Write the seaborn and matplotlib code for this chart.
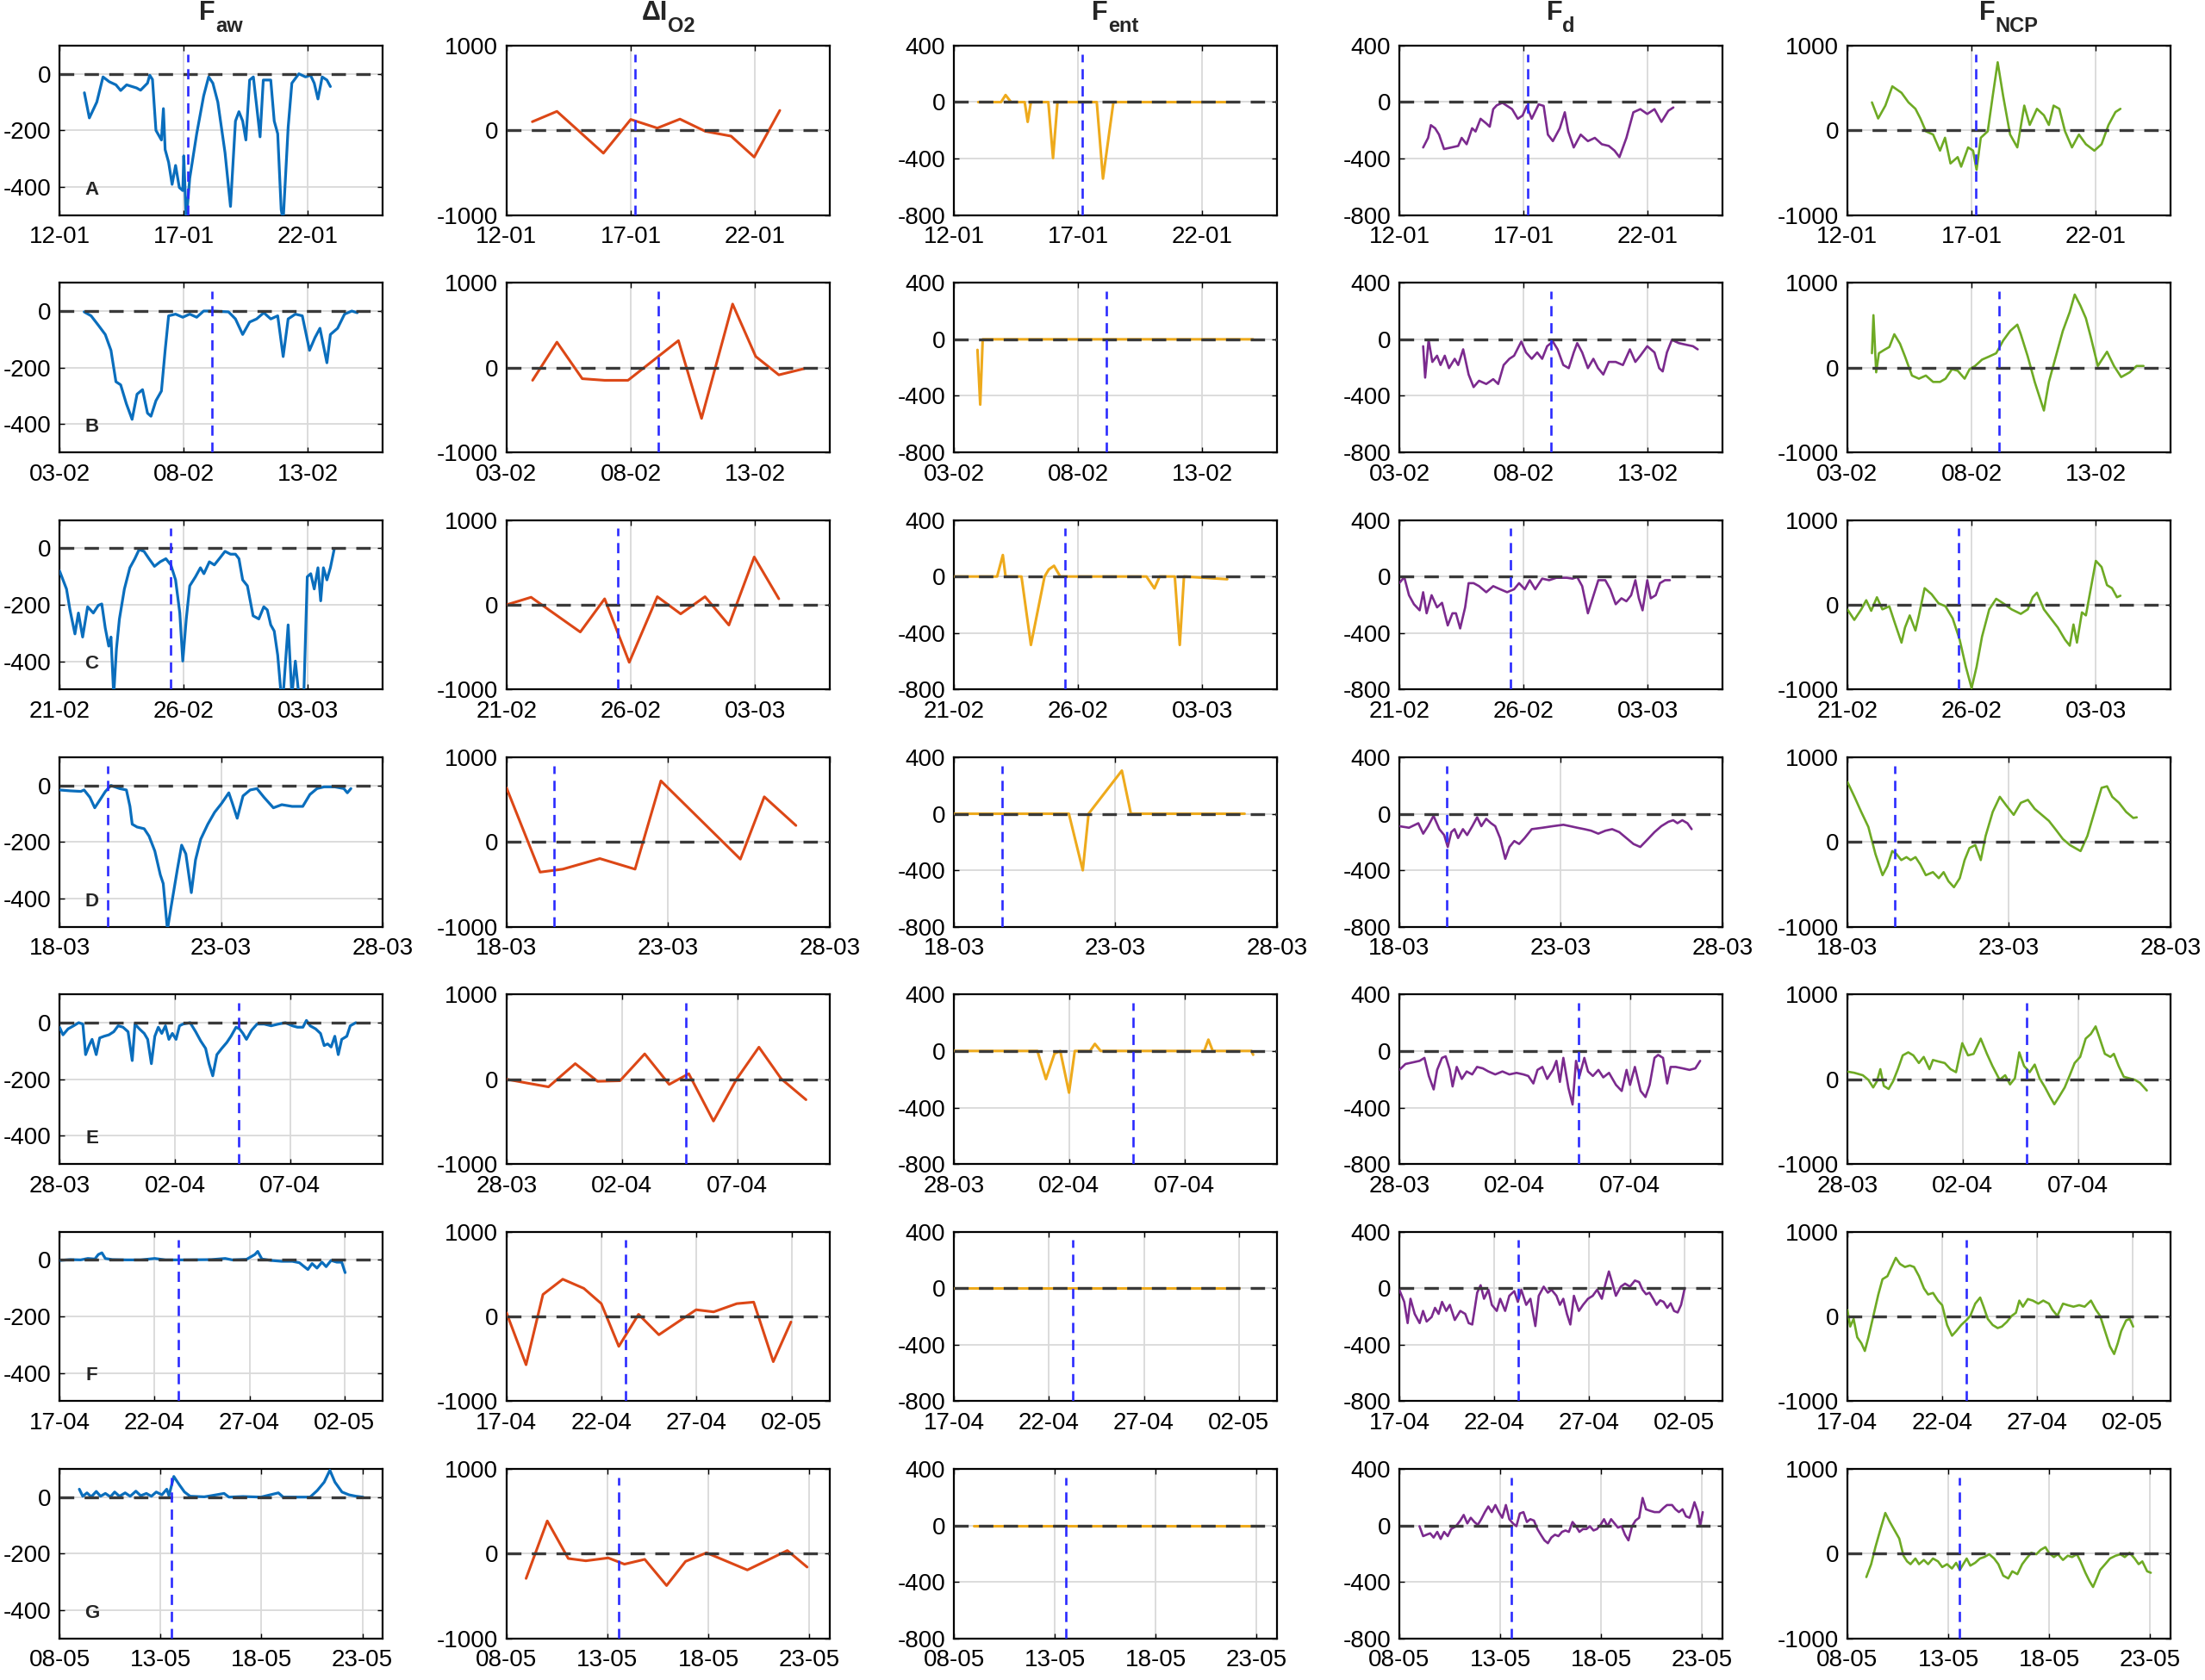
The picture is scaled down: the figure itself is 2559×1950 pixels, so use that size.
import matplotlib
matplotlib.use("Agg")
import matplotlib.pyplot as plt
import matplotlib.dates as mdates
import matplotlib.ticker as mticker
import pandas as pd
import seaborn as sns

# ---------------- data (day offset from row start, value) ----------------
ROW_STARTS = ["2022-01-12", "2022-02-03", "2022-02-21", "2022-03-18",
              "2022-03-28", "2022-04-17", "2022-05-08"]
ROW_SPANS = [13, 13, 13, 10, 14, 17, 16]
ROW_LABELS = ["A", "B", "C", "D", "E", "F", "G"]
EVENT_DAY = [5.18, 6.12, 4.48, 1.48, 7.76, 6.26, 5.55]

TITLE_MAIN = ["F", "\u0394I", "F", "F", "F"]
TITLE_SUB = ["aw", "O2", "ent", "d", "NCP"]
YLIMS = [(-500, 100), (-1000, 1000), (-800, 400), (-800, 400), (-1000, 1000)]
YTICKS = [[-400, -200, 0], [-1000, 0, 1000], [-800, -400, 0, 400],
          [-800, -400, 0, 400], [-1000, 0, 1000]]
COLORS = ["#0A6EBD", "#DC4716", "#EEAA1C", "#7B2A8E", "#6EAA24"]
LWS = [2.3, 2.2, 2.2, 1.9, 1.9]

# Row A
FAW_A = [(1.0,-67),(1.2,-156),(1.5,-100),(1.75,-11),(2.0,-28),(2.27,-39),(2.46,-59),(2.7,-39),(3.1,-50),(3.26,-58),(3.54,-33),(3.63,-5),(3.74,-20),(3.88,-200),(4.1,-234),(4.18,-123),(4.25,-268),(4.39,-313),(4.53,-391),(4.67,-324),(4.82,-402),(4.96,-413),(5.0,-290),(5.1,-520),(5.24,-369),(5.52,-212),(5.8,-78),(6.0,-11),(6.17,-33),(6.37,-100),(6.66,-279),(6.88,-469),(7.08,-167),(7.22,-134),(7.37,-167),(7.5,-234),(7.65,-22),(7.8,-11),(7.93,-112),(8.07,-223),(8.2,-22),(8.5,-22),(8.64,-167),(8.78,-212),(8.92,-480),(9.0,-520),(9.2,-190),(9.35,-33),(9.63,0),(9.9,-11),(10.1,-5),(10.25,-33),(10.4,-89),(10.57,-11),(10.76,-22),(10.9,-45)]
DI_A = [(1.04,102),(2.03,224),(3.9,-269),(5.0,129),(6.07,27),(6.98,133),(8.0,-11),(9.04,-68),(9.97,-315),(11.0,235)]
ENT_A = [(0.98,0),(1.9,0),(2.08,50),(2.3,0),(2.85,0),(2.97,-140),(3.1,0),(3.8,0),(3.99,-396),(4.17,0),(5.75,0),(6.0,-541),(6.42,0),(10.94,0)]
FD_A = [(0.96,-321),(1.16,-253),(1.27,-163),(1.44,-185),(1.6,-230),(1.8,-332),(2.09,-321),(2.37,-310),(2.51,-253),(2.71,-298),(2.93,-185),(3.07,-208),(3.27,-118),(3.5,-151),(3.64,-174),(3.78,-50),(3.92,-23),(4.15,-5),(4.34,-27),(4.54,-50),(4.77,-118),(4.96,-95),(5.13,-27),(5.33,-118),(5.61,-16),(5.81,-27),(5.98,-230),(6.18,-276),(6.46,-185),(6.66,-72),(6.8,-208),(7.02,-321),(7.3,-230),(7.59,-276),(7.87,-253),(8.15,-298),(8.43,-310),(8.66,-343),(8.86,-389),(9.14,-253),(9.42,-72),(9.7,-50),(9.98,-84),(10.27,-50),(10.55,-140),(10.83,-61),(11.03,-38)]
NCP_A = [(0.99,330),(1.24,140),(1.53,292),(1.81,519),(2.18,443),(2.46,330),(2.74,254),(2.94,140),(3.16,-11),(3.45,-49),(3.73,-239),(3.93,-87),(4.15,-390),(4.44,-315),(4.58,-428),(4.86,-201),(5.06,-239),(5.2,-466),(5.37,-87),(5.65,-11),(5.85,405),(6.05,803),(6.27,405),(6.55,-49),(6.84,-201),(7.12,292),(7.34,64),(7.63,254),(7.91,178),(8.11,64),(8.3,292),(8.53,254),(8.76,-11),(9.04,-201),(9.32,-49),(9.6,-163),(9.94,-239),(10.23,-163),(10.51,64),(10.79,216),(10.99,254)]

# Row B
FAW_B = [(0.99,-3),(1.27,-17),(1.56,-50),(1.84,-83),(2.07,-139),(2.27,-250),(2.46,-261),(2.69,-328),(2.92,-383),(3.12,-294),(3.34,-278),(3.54,-361),(3.68,-372),(3.88,-317),(4.1,-283),(4.25,-139),(4.39,-17),(4.67,-11),(4.96,-22),(5.24,-11),(5.52,-22),(5.8,0),(6.09,0),(6.8,-3),(7.08,-28),(7.37,-83),(7.65,-39),(7.93,-28),(8.22,-6),(8.5,-28),(8.78,-17),(9.0,-161),(9.2,-28),(9.49,-11),(9.77,-17),(10.06,-139),(10.28,-94),(10.48,-61),(10.76,-183),(10.9,-83),(11.19,-61),(11.47,-11),(11.76,0),(11.98,-6)]
DI_B = [(1.05,-150),(2.03,300),(3.05,-131),(3.95,-150),(4.89,-150),(6.92,318),(7.85,-599),(9.1,749),(10.03,131),(10.96,-86),(12.0,-11)]
ENT_B = [(0.95,-75),(1.06,-462),(1.16,0),(12.04,0)]
FD_B = [(0.96,-49),(1.04,-271),(1.18,-4),(1.33,-160),(1.52,-116),(1.66,-182),(1.83,-116),(2.0,-204),(2.23,-138),(2.37,-182),(2.57,-71),(2.79,-249),(2.99,-338),(3.21,-293),(3.5,-316),(3.78,-282),(3.98,-316),(4.2,-182),(4.43,-138),(4.62,-116),(4.91,-16),(5.1,-93),(5.33,-138),(5.55,-93),(5.75,-138),(5.95,-49),(6.18,-16),(6.37,-71),(6.6,-182),(6.82,-204),(7.02,-93),(7.16,-27),(7.36,-93),(7.59,-204),(7.81,-138),(8.0,-204),(8.21,-249),(8.43,-160),(8.71,-160),(9.0,-182),(9.28,-71),(9.5,-160),(9.7,-116),(9.98,-49),(10.27,-93),(10.46,-204),(10.6,-227),(10.77,-93),(10.97,-4),(11.25,-27),(11.53,-38),(11.82,-49),(12.01,-71)]
NCP_B = [(0.99,169),(1.05,618),(1.16,-56),(1.27,169),(1.47,206),(1.69,243),(1.89,393),(2.12,281),(2.32,131),(2.6,-94),(2.88,-131),(3.16,-94),(3.45,-169),(3.73,-169),(3.95,-131),(4.21,-19),(4.44,-37),(4.72,-131),(4.92,-19),(5.14,19),(5.42,94),(5.71,131),(5.99,169),(6.27,318),(6.55,431),(6.84,506),(6.98,393),(7.26,131),(7.54,-169),(7.91,-506),(8.11,-169),(8.39,131),(8.67,431),(8.95,655),(9.15,861),(9.38,730),(9.6,581),(9.8,356),(10.08,19),(10.45,187),(10.73,19),(11.02,-112),(11.36,-56),(11.64,19),(11.92,19)]

# Row C
FAW_C = [(0.0,-80),(0.28,-144),(0.42,-218),(0.62,-303),(0.76,-229),(0.93,-314),(1.13,-207),(1.36,-229),(1.56,-202),(1.7,-197),(1.84,-282),(1.98,-346),(2.07,-314),(2.18,-520),(2.29,-356),(2.41,-250),(2.61,-144),(2.83,-69),(3.03,-37),(3.2,-5),(3.4,-11),(3.6,-37),(3.82,-64),(4.05,-48),(4.28,-37),(4.48,-59),(4.67,-112),(4.84,-229),(4.96,-399),(5.1,-250),(5.24,-133),(5.47,-101),(5.67,-69),(5.81,-90),(6.03,-48),(6.23,-59),(6.43,-37),(6.66,-11),(6.88,-21),(7.08,-21),(7.22,-37),(7.37,-112),(7.56,-133),(7.79,-239),(8.02,-250),(8.22,-207),(8.36,-218),(8.5,-271),(8.64,-293),(8.78,-378),(8.92,-520),(9.0,-520),(9.2,-271),(9.35,-520),(9.49,-399),(9.63,-520),(9.83,-520),(9.97,-101),(10.11,-90),(10.25,-144),(10.4,-69),(10.51,-186),(10.62,-69),(10.76,-112),(10.9,-69),(11.05,-5)]
DI_C = [(0.0,0),(0.99,89),(2.97,-321),(3.95,71),(4.94,-678),(6.07,96),(7.01,-107),(7.99,96),(8.95,-239),(9.97,564),(10.96,71)]
ENT_C = [(0.0,0),(1.74,0),(1.97,152),(2.08,0),(2.72,0),(3.1,-484),(3.65,0),(3.82,50),(4.03,76),(4.28,0),(7.75,0),(8.07,-84),(8.28,0),(8.89,0),(9.09,-484),(9.26,0),(11.0,-19)]
FD_C = [(0,-47),(0.2,-4),(0.39,-132),(0.59,-196),(0.82,-239),(0.96,-111),(1.1,-260),(1.3,-132),(1.52,-218),(1.72,-186),(1.95,-346),(2.14,-260),(2.28,-260),(2.45,-367),(2.65,-218),(2.79,-47),(2.99,-47),(3.21,-68),(3.5,-111),(3.78,-68),(4.06,-90),(4.34,-111),(4.62,-90),(4.82,-47),(5.05,-90),(5.25,-26),(5.47,-90),(5.75,-15),(6.03,-26),(6.32,-9),(6.74,-9),(6.97,-15),(7.16,-4),(7.36,-68),(7.59,-260),(7.78,-154),(8.01,-26),(8.29,-26),(8.49,-90),(8.71,-196),(8.94,-154),(9.14,-175),(9.33,-132),(9.5,-26),(9.64,-154),(9.79,-239),(9.98,-26),(10.12,-154),(10.32,-132),(10.49,-47),(10.69,-26),(10.89,-26)]
NCP_C = [(0,-54),(0.28,-178),(0.56,-54),(0.76,54),(0.96,-71),(1.19,89),(1.41,-54),(1.69,-18),(1.89,-196),(2.18,-446),(2.32,-268),(2.51,-125),(2.74,-303),(2.88,-125),(3.11,196),(3.39,125),(3.67,18),(3.95,-18),(4.24,-161),(4.52,-411),(4.77,-732),(5.0,-982),(5.2,-732),(5.42,-375),(5.71,-54),(5.99,71),(6.27,18),(6.61,-54),(6.98,-107),(7.26,-54),(7.46,89),(7.63,143),(7.91,-54),(8.19,-161),(8.47,-268),(8.76,-411),(8.95,-482),(9.1,-232),(9.24,-446),(9.44,-89),(9.6,-125),(9.8,196),(10.0,518),(10.23,446),(10.45,232),(10.65,196),(10.85,89),(10.99,107)]

# Row D
FAW_D = [(0,-16),(0.33,-19),(0.66,-21),(0.76,-16),(0.94,-42),(1.09,-79),(1.24,-53),(1.42,-21),(1.59,0),(1.86,-11),(2.07,-16),(2.18,-74),(2.25,-137),(2.4,-147),(2.62,-153),(2.77,-179),(2.95,-232),(3.12,-316),(3.21,-347),(3.34,-510),(3.45,-432),(3.65,-295),(3.78,-211),(3.91,-242),(4.08,-379),(4.21,-263),(4.37,-190),(4.59,-137),(4.8,-95),(5.02,-63),(5.24,-26),(5.35,-63),(5.5,-116),(5.68,-37),(5.9,-16),(6.11,-11),(6.33,-42),(6.62,-79),(6.88,-68),(7.2,-74),(7.53,-74),(7.75,-32),(7.97,-11),(8.19,-5),(8.52,-5),(8.8,-11),(8.91,-26),(9.02,-11)]
DI_D = [(0,639),(1.04,-355),(1.74,-320),(2.89,-195),(3.98,-320),(4.78,721),(7.24,-202),(7.98,533),(8.96,195)]
ENT_D = [(0,0),(3.56,0),(3.99,-400),(4.17,0),(5.2,305),(5.48,0),(9.0,0)]
FD_D = [(0,-88),(0.3,-99),(0.59,-67),(0.74,-141),(0.89,-88),(1.06,-15),(1.24,-109),(1.39,-151),(1.5,-235),(1.61,-130),(1.71,-109),(1.82,-172),(1.97,-109),(2.1,-151),(2.26,-88),(2.41,-25),(2.54,-88),(2.69,-36),(2.84,-67),(2.97,-88),(3.12,-172),(3.28,-319),(3.41,-235),(3.56,-193),(3.71,-214),(3.88,-172),(4.1,-109),(4.43,-99),(4.75,-88),(5.08,-78),(5.29,-88),(5.51,-99),(5.73,-109),(5.94,-120),(6.16,-141),(6.38,-120),(6.59,-109),(6.81,-130),(7.03,-172),(7.25,-214),(7.46,-235),(7.68,-183),(7.9,-130),(8.11,-88),(8.33,-57),(8.48,-46),(8.61,-67),(8.76,-46),(8.92,-67),(9.05,-109)]
NCP_D = [(0,710),(0.22,533),(0.43,355),(0.65,178),(0.87,-142),(1.09,-391),(1.24,-284),(1.39,-107),(1.52,-142),(1.67,-213),(1.83,-178),(1.96,-213),(2.11,-178),(2.26,-266),(2.43,-391),(2.65,-355),(2.83,-426),(2.98,-355),(3.13,-462),(3.3,-533),(3.48,-426),(3.63,-213),(3.78,-71),(3.96,-36),(4.13,-213),(4.28,71),(4.5,355),(4.72,533),(4.93,426),(5.15,320),(5.37,462),(5.59,497),(5.8,391),(6.02,320),(6.24,249),(6.46,142),(6.67,36),(6.89,-36),(7.22,-107),(7.43,71),(7.65,355),(7.87,639),(8.04,657),(8.2,533),(8.41,462),(8.63,355),(8.85,284),(8.96,291)]

# Row E
FAW_E = [(0,-16),(0.15,-43),(0.37,-22),(0.61,-11),(0.83,0),(1.01,-5),(1.13,-113),(1.28,-81),(1.41,-59),(1.59,-113),(1.74,-54),(1.93,-48),(2.14,-43),(2.35,-32),(2.54,-11),(2.75,-16),(2.97,-32),(3.15,-134),(3.27,-5),(3.46,-22),(3.67,-38),(3.82,-59),(3.98,-145),(4.13,-48),(4.28,-16),(4.43,-38),(4.59,-11),(4.74,-59),(4.89,-38),(5.05,-59),(5.2,-11),(5.35,-5),(5.66,0),(5.9,-32),(6.12,-65),(6.33,-91),(6.48,-145),(6.64,-188),(6.82,-113),(7.03,-91),(7.25,-70),(7.43,-48),(7.65,-16),(7.8,-22),(7.95,-38),(8.1,-59),(8.32,-27),(8.56,-5),(8.87,-5),(9.17,-11),(9.48,-5),(9.79,0),(10.09,-11),(10.31,-16),(10.55,-16),(10.7,8),(10.86,-11),(11.1,-22),(11.31,-38),(11.47,-81),(11.62,-75),(11.77,-86),(11.93,-48),(12.08,-113),(12.23,-59),(12.45,-48),(12.6,-11),(12.84,0)]
DI_E = [(0,0),(0.85,-43),(1.82,-90),(2.98,184),(3.95,-25),(4.92,-18),(5.99,299),(7.05,-61),(7.9,65),(8.97,-493),(9.97,0),(10.94,378),(11.91,4),(12.98,-241)]
ENT_E = [(0,0),(3.62,0),(3.99,-199),(4.36,-19),(4.61,0),(4.99,-295),(5.24,0),(5.9,0),(6.11,50),(6.36,0),(10.85,0),(11.03,80),(11.22,0),(12.9,0),(12.97,-27)]
FD_E = [(0,-134),(0.27,-92),(0.58,-81),(0.88,-70),(1.09,-49),(1.28,-177),(1.49,-272),(1.64,-134),(1.85,-49),(2.01,-38),(2.19,-134),(2.31,-251),(2.49,-113),(2.71,-198),(2.92,-145),(3.16,-166),(3.37,-113),(3.62,-123),(3.86,-145),(4.16,-166),(4.47,-145),(4.77,-166),(5.08,-155),(5.38,-166),(5.59,-177),(5.81,-230),(5.99,-134),(6.2,-113),(6.41,-198),(6.66,-134),(6.81,-70),(6.96,-219),(7.11,-49),(7.33,-262),(7.51,-379),(7.66,-70),(7.81,-177),(8.02,-49),(8.18,-145),(8.39,-177),(8.63,-134),(8.84,-187),(9.09,-155),(9.39,-240),(9.64,-283),(9.85,-134),(10.0,-240),(10.21,-113),(10.46,-283),(10.67,-326),(10.85,-240),(11.06,-49),(11.22,-28),(11.43,-49),(11.61,-230),(11.76,-113),(11.98,-113),(12.28,-123),(12.58,-134),(12.83,-123),(13.04,-70)]
NCP_E = [(0,90),(0.3,76),(0.67,47),(0.91,-7),(1.12,-97),(1.28,-25),(1.43,119),(1.58,-79),(1.79,-115),(1.98,-25),(2.19,119),(2.4,281),(2.64,317),(2.86,281),(3.1,191),(3.31,263),(3.56,119),(3.71,227),(3.95,209),(4.22,191),(4.47,119),(4.71,83),(4.98,425),(5.23,281),(5.47,299),(5.78,479),(6.05,299),(6.29,155),(6.6,-7),(6.84,47),(7.05,-61),(7.26,11),(7.45,317),(7.66,155),(7.9,83),(8.12,173),(8.33,11),(8.57,-97),(8.78,-205),(8.97,-295),(9.18,-205),(9.42,-97),(9.64,47),(9.85,191),(10.09,263),(10.33,479),(10.55,533),(10.76,623),(10.94,479),(11.16,299),(11.4,263),(11.55,299),(11.76,155),(11.98,29),(12.22,11),(12.46,-7),(12.68,-43),(12.98,-133)]

# Row F
FAW_F = [(0,-2),(0.56,1),(1.11,0),(1.49,5),(1.86,3),(2.04,19),(2.23,25),(2.41,5),(2.78,1),(3.53,0),(4.27,0),(5.01,5),(5.57,0),(6.5,0),(7.98,1),(8.72,5),(9.09,0),(9.84,2),(10.28,19),(10.43,30),(10.65,3),(11.14,-2),(11.69,-5),(12.25,-5),(12.62,-10),(12.88,-24),(13.07,-34),(13.29,-13),(13.55,-29),(13.81,-8),(14.03,-24),(14.29,-2),(14.59,-8),(14.85,-8),(15.03,-45)]
DI_F = [(0,43),(1.03,-569),(1.92,259),(2.96,439),(4.07,331),(4.99,151),(5.91,-353),(6.95,25),(8.02,-216),(9.98,79),(10.9,54),(12.12,151),(13.01,169),(14.04,-533),(14.97,-65)]
ENT_F = [(0,0),(15.0,0)]
FD_F = [(0,-11),(0.26,-97),(0.44,-247),(0.59,-75),(0.81,-182),(1.07,-247),(1.25,-161),(1.44,-236),(1.7,-204),(1.88,-139),(2.07,-182),(2.25,-97),(2.47,-161),(2.66,-118),(2.92,-225),(3.21,-161),(3.47,-182),(3.65,-247),(3.84,-257),(4.1,-32),(4.28,21),(4.46,-75),(4.69,-11),(4.87,-118),(5.13,-161),(5.31,-75),(5.57,-161),(5.79,-54),(6.05,-21),(6.24,-97),(6.42,-11),(6.68,-118),(6.9,-75),(7.16,-268),(7.34,-54),(7.6,11),(7.82,-32),(8.01,-11),(8.27,-54),(8.45,-118),(8.63,-75),(8.82,-182),(9.0,-257),(9.19,-54),(9.45,-161),(9.67,-118),(9.93,-75),(10.18,-54),(10.41,-11),(10.66,-75),(10.85,32),(11.03,118),(11.22,32),(11.4,-54),(11.66,11),(11.88,32),(12.14,11),(12.4,54),(12.62,43),(12.8,-11),(12.99,-43),(13.17,-32),(13.36,-75),(13.54,-118),(13.73,-86),(13.91,-97),(14.1,-139),(14.28,-107),(14.46,-161),(14.65,-172),(14.83,-118),(15.02,0)]
NCP_F = [(0,79),(0.15,-119),(0.33,-29),(0.52,-245),(0.74,-317),(0.92,-407),(1.11,-245),(1.37,7),(1.63,259),(1.85,439),(2.11,475),(2.29,565),(2.55,691),(2.77,619),(3.03,583),(3.29,601),(3.51,583),(3.77,475),(4.03,331),(4.25,259),(4.51,277),(4.77,187),(4.99,133),(5.25,-101),(5.51,-227),(5.73,-173),(5.99,-101),(6.25,-47),(6.47,7),(6.73,151),(6.99,223),(7.17,115),(7.39,-29),(7.65,-101),(7.91,-137),(8.13,-119),(8.39,-65),(8.65,7),(8.87,43),(9.05,187),(9.24,115),(9.5,205),(9.76,187),(10.05,151),(10.31,187),(10.61,151),(10.79,79),(11.05,7),(11.35,151),(11.6,133),(11.9,115),(12.2,133),(12.49,115),(12.82,187),(13.08,79),(13.3,7),(13.56,-173),(13.82,-353),(14.04,-443),(14.23,-317),(14.41,-173),(14.67,-47),(14.86,-29),(15.04,-119)]

# Row G
FAW_G = [(0.98,28),(1.15,3),(1.36,15),(1.57,1),(1.82,20),(2.03,3),(2.27,13),(2.52,1),(2.73,18),(2.97,3),(3.25,15),(3.5,3),(3.78,21),(4.02,5),(4.3,13),(4.55,3),(4.79,18),(5.07,8),(5.31,28),(5.42,5),(5.66,73),(5.94,43),(6.19,18),(6.47,3),(7.17,1),(7.52,5),(8.15,13),(8.39,0),(9.09,2),(9.97,0),(10.84,15),(11.08,0),(12.41,0),(12.76,23),(13.11,53),(13.39,95),(13.64,53),(13.99,18),(14.34,8),(14.69,3),(15.03,0)]
DI_G = [(0.97,-292),(2.02,386),(3.06,-57),(3.93,-84),(5.04,-50),(5.84,-124),(6.85,-67),(7.93,-376),(8.87,-91),(9.91,10),(11.93,-192),(13.04,-64),(13.91,37),(14.89,-158)]
ENT_G = [(1.0,0),(15.0,0)]
FD_G = [(1.0,-6),(1.18,-76),(1.35,-66),(1.53,-56),(1.7,-86),(1.88,-46),(2.05,-96),(2.22,-46),(2.4,-76),(2.57,-26),(2.81,-6),(3.02,34),(3.19,74),(3.37,14),(3.54,54),(3.72,24),(3.89,4),(4.06,44),(4.24,94),(4.41,134),(4.58,94),(4.76,144),(4.93,94),(5.1,54),(5.28,144),(5.45,44),(5.63,14),(5.8,-6),(5.97,84),(6.15,94),(6.32,24),(6.49,44),(6.67,34),(6.84,-26),(7.01,-66),(7.19,-106),(7.36,-126),(7.53,-86),(7.71,-66),(7.88,-76),(8.06,-46),(8.23,-36),(8.4,-46),(8.58,24),(8.75,-6),(8.92,-46),(9.1,-26),(9.27,-26),(9.44,-6),(9.62,-36),(9.79,-26),(9.97,4),(10.14,44),(10.31,-6),(10.49,44),(10.66,14),(10.83,-16),(11.01,-6),(11.18,-66),(11.35,-106),(11.53,-6),(11.7,34),(11.88,54),(12.05,194),(12.22,114),(12.4,104),(12.64,94),(12.88,94),(13.09,124),(13.26,144),(13.51,144),(13.68,114),(13.85,94),(14.03,114),(14.2,64),(14.38,54),(14.48,94),(14.62,164),(14.79,94),(14.9,-6),(15.03,94)]
NCP_G = [(0.94,-276),(1.18,-124),(1.39,77),(1.63,279),(1.88,480),(2.09,380),(2.33,279),(2.57,178),(2.78,-24),(2.96,-91),(3.13,-124),(3.37,-57),(3.55,-124),(3.79,-74),(4.0,-124),(4.24,-57),(4.49,-91),(4.7,-158),(4.94,-124),(5.18,-175),(5.39,-108),(5.57,-192),(5.74,-124),(5.91,-57),(6.09,-141),(6.33,-108),(6.57,-57),(6.78,-40),(7.03,-7),(7.27,-57),(7.48,-124),(7.72,-259),(7.97,-292),(8.17,-208),(8.42,-242),(8.66,-124),(8.87,-57),(9.11,10),(9.36,-7),(9.57,44),(9.81,77),(9.98,10),(10.23,-40),(10.43,-7),(10.68,-74),(10.92,-24),(11.13,-40),(11.37,-7),(11.55,-91),(11.79,-225),(12.0,-326),(12.17,-393),(12.35,-292),(12.52,-192),(12.77,-124),(13.01,-57),(13.29,-24),(13.53,-7),(13.74,-40),(13.98,10),(14.23,-57),(14.43,-124),(14.61,-91),(14.85,-208),(15.03,-225)]

PANELS = [
    [FAW_A, DI_A, ENT_A, FD_A, NCP_A],
    [FAW_B, DI_B, ENT_B, FD_B, NCP_B],
    [FAW_C, DI_C, ENT_C, FD_C, NCP_C],
    [FAW_D, DI_D, ENT_D, FD_D, NCP_D],
    [FAW_E, DI_E, ENT_E, FD_E, NCP_E],
    [FAW_F, DI_F, ENT_F, FD_F, NCP_F],
    [FAW_G, DI_G, ENT_G, FD_G, NCP_G],
]

# ---------------- style ----------------
sns.set_theme(style="white")
plt.rcParams["font.family"] = ["Liberation Sans", "DejaVu Sans"]
plt.rcParams["axes.unicode_minus"] = False

fig = plt.figure(figsize=(25.59, 19.5), dpi=100)

COL_LEFT = [0.027, 0.2297, 0.4326, 0.6346, 0.8378]
AX_W = 0.1465
ROW_TOP0 = 0.0271
ROW_PITCH = 0.1412
AX_H = 0.1010

for i in range(7):
    start = pd.Timestamp(ROW_STARTS[i])
    end = start + pd.Timedelta(days=ROW_SPANS[i])
    tick_dates = [start + pd.Timedelta(days=k) for k in range(0, ROW_SPANS[i] + 1, 5)]
    event = start + pd.Timedelta(days=EVENT_DAY[i])
    top = ROW_TOP0 + i * ROW_PITCH
    for j in range(5):
        ax = fig.add_axes([COL_LEFT[j], 1 - top - AX_H, AX_W, AX_H])
        pts = PANELS[i][j]
        df = pd.DataFrame({
            "time": [start + pd.Timedelta(days=d) for d, _ in pts],
            "value": [v for _, v in pts],
        })
        sns.lineplot(data=df, x="time", y="value", ax=ax, color=COLORS[j],
                     linewidth=LWS[j], estimator=None, sort=False, legend=False,
                     zorder=3)
        ax.axhline(0, color="#3a3a3a", lw=2.4, dashes=(5.0, 3.6), zorder=4)
        ax.axvline(event, ymin=0, ymax=0.95, color="#2b2bff", lw=1.9,
                   dashes=(4.5, 3.0), zorder=5)
        ax.set_xlim(start, end)
        ax.set_ylim(*YLIMS[j])
        ax.set_yticks(YTICKS[j])
        ax.xaxis.set_major_locator(mticker.FixedLocator(mdates.date2num(tick_dates)))
        ax.xaxis.set_major_formatter(mdates.DateFormatter("%d-%m"))
        ax.set_xlabel("")
        ax.set_ylabel("")
        ax.grid(True, color="#d9d9d9", lw=1.3)
        ax.set_axisbelow(True)
        for s in ax.spines.values():
            s.set_visible(True)
            s.set_color("black")
            s.set_linewidth(1.6)
        ax.tick_params(axis="both", which="major", direction="in", length=4,
                       width=1.0, labelsize=20, colors="black", pad=7,
                       top=True, right=True, bottom=True, left=True)
        ax.tick_params(axis="x", pad=9)
        if j == 0:
            ax.text(0.10, 0.15, ROW_LABELS[i], transform=ax.transAxes,
                    fontsize=16, fontweight="bold", ha="center", va="center",
                    zorder=6)

# column titles (main letter + subscript)
renderer = fig.canvas.get_renderer()
for j in range(5):
    t1 = fig.text(0, 0.9882, TITLE_MAIN[j], fontsize=22, fontweight="bold",
                  ha="left", va="baseline")
    t2 = fig.text(0, 0.9812, TITLE_SUB[j], fontsize=17, fontweight="bold",
                  ha="left", va="baseline")
    w1 = t1.get_window_extent(renderer).width / fig.bbox.width
    w2 = t2.get_window_extent(renderer).width / fig.bbox.width
    cx = COL_LEFT[j] + AX_W / 2
    x0 = cx - (w1 + w2) / 2
    t1.set_x(x0)
    t2.set_x(x0 + w1)

fig.savefig("out.png", dpi=100)
